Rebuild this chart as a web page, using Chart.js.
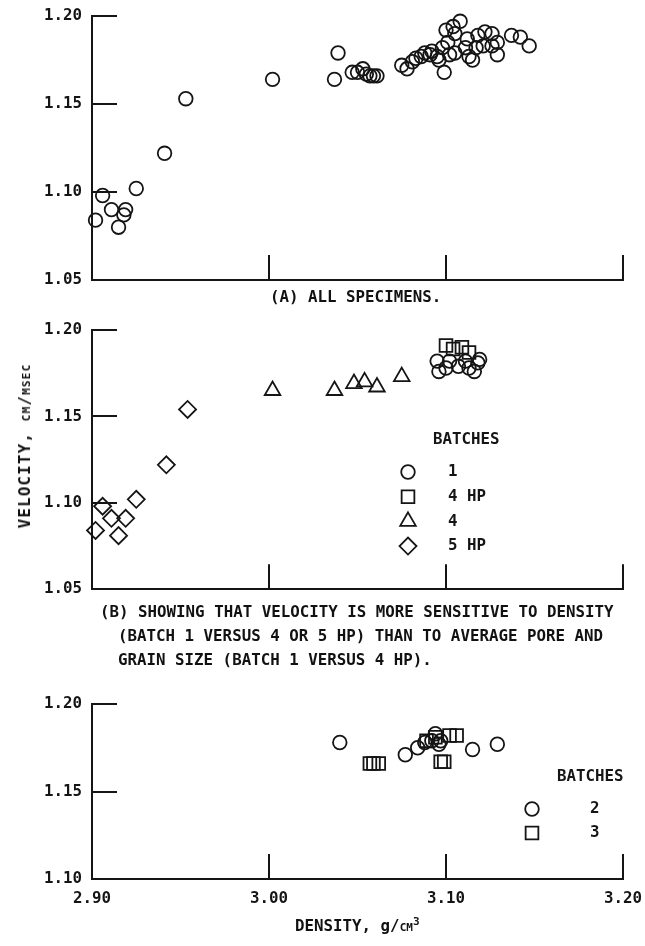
<!DOCTYPE html>
<html><head><meta charset="utf-8">
<script src="https://cdn.jsdelivr.net/npm/chart.js@4.4.0/dist/chart.umd.min.js"></script>
<style>
html,body{margin:0;padding:0;background:#fff;}
#page{position:relative;width:645px;height:946px;overflow:hidden;font-family:'DejaVu Sans Mono',monospace;color:#111;}
canvas{position:absolute;left:0;}
.t{position:absolute;white-space:pre;font-size:15.8px;font-weight:bold;line-height:16px;}
.sc{font-variant:small-caps;}
</style></head><body>
<div id="page">
<canvas id="cA" width="645" height="290" style="top:0"></canvas>
<canvas id="cB" width="645" height="310" style="top:290px"></canvas>
<canvas id="cC" width="645" height="346" style="top:600px"></canvas>
<div class="t" style="left:270px;top:289px">(A) ALL SPECIMENS.</div>
<div class="t" style="left:100px;top:604px">(B) SHOWING THAT VELOCITY IS MORE SENSITIVE TO DENSITY</div>
<div class="t" style="left:118px;top:628px">(BATCH 1 VERSUS 4 OR 5 HP) THAN TO AVERAGE PORE AND</div>
<div class="t" style="left:118px;top:652px">GRAIN SIZE (BATCH 1 VERSUS 4 HP).</div>
<div class="t" style="left:25px;top:446px;letter-spacing:1.2px;transform:translate(-50%,-50%) rotate(-90deg)">VELOCITY, <span class="sc">cm/μsec</span></div>
<div class="t" style="left:295px;top:914px">DENSITY, g/<span class="sc">cm</span><sup style="font-size:11px;vertical-align:6px">3</sup></div>
</div>
<script>
// ---------- data ----------
const yTicksAB = [1.05, 1.10, 1.15, 1.20];
const yTicksC = [1.10, 1.15, 1.20];
const xTicks = [2.90, 3.00, 3.10, 3.20];

// (A) all specimens
const allDensity = [2.902,2.906,2.911,2.915,2.918,2.919,2.925,2.941,2.953,3.002,3.037,3.039,3.047,3.050,3.053,3.055,3.057,3.059,3.061,3.075,3.078,3.081,3.083,3.086,3.088,3.091,3.092,3.095,3.096,3.098,3.099,3.100,3.101,3.102,3.104,3.105,3.105,3.108,3.111,3.112,3.113,3.115,3.117,3.118,3.121,3.122,3.126,3.126,3.129,3.129,3.137,3.142,3.147];
const allVelocity = [1.084,1.098,1.090,1.080,1.087,1.090,1.102,1.122,1.153,1.164,1.164,1.179,1.168,1.168,1.170,1.167,1.166,1.166,1.166,1.172,1.170,1.174,1.176,1.177,1.179,1.178,1.180,1.177,1.175,1.182,1.168,1.192,1.185,1.178,1.194,1.190,1.179,1.197,1.182,1.187,1.177,1.175,1.182,1.189,1.183,1.191,1.190,1.183,1.178,1.185,1.189,1.188,1.183];

// (B) batches
const b1Density = [3.095,3.096,3.100,3.102,3.107,3.111,3.113,3.116,3.118,3.119];
const b1Velocity = [1.182,1.176,1.178,1.182,1.179,1.182,1.178,1.176,1.181,1.183];
const b4hpDensity = [3.100,3.104,3.109,3.113];
const b4hpVelocity = [1.191,1.189,1.190,1.187];
const b4Density = [3.002,3.037,3.048,3.054,3.061,3.075];
const b4Velocity = [1.165,1.165,1.169,1.170,1.167,1.173];
const b5hpDensity = [2.902,2.906,2.911,2.915,2.919,2.925,2.942,2.954];
const b5hpVelocity = [1.084,1.098,1.091,1.081,1.091,1.102,1.122,1.154];

// (C) batches 2 and 3
const c2Density = [3.040,3.077,3.084,3.088,3.092,3.094,3.096,3.097,3.115,3.129];
const c2Velocity = [1.178,1.171,1.175,1.178,1.179,1.183,1.177,1.179,1.174,1.177];
const c3Density = [3.057,3.059,3.062,3.097,3.099,3.089,3.094,3.102,3.106];
const c3Velocity = [1.166,1.166,1.166,1.167,1.167,1.179,1.181,1.182,1.182];

// ---------- styling ----------
const INK = '#151515';
const FAM = "'DejaVu Sans Mono', monospace";
const CFONT = 'bold 15.8px ' + FAM;

function pts(xs, ys) { return xs.map((x, i) => ({ x: x, y: ys[i] })); }
const STY = { circle: 6.8, rect: 9, triangle: 9, rectRot: 8.5 };
function ds(label, xs, ys, style) {
  return {
    label: label, data: pts(xs, ys), pointStyle: style, pointRadius: STY[style],
    pointHoverRadius: STY[style], pointBorderWidth: 1.8, pointBorderColor: INK,
    pointBackgroundColor: 'rgba(0,0,0,0)', backgroundColor: 'rgba(0,0,0,0)',
    borderColor: INK, showLine: false, clip: false
  };
}

const inwardTicks = {
  id: 'inwardTicks',
  afterDatasetsDraw(chart) {
    const { ctx, chartArea: { left, bottom }, scales: { x, y } } = chart;
    ctx.save();
    ctx.strokeStyle = INK; ctx.lineWidth = 2;
    ctx.beginPath();
    y.ticks.forEach(t => {
      if (Math.abs(t.value - y.min) < 1e-9) return;
      const py = Math.round(y.getPixelForValue(t.value));
      ctx.moveTo(left, py); ctx.lineTo(left + 25, py);
    });
    x.ticks.forEach(t => {
      if (Math.abs(t.value - x.min) < 1e-9) return;
      const px = Math.round(x.getPixelForValue(t.value));
      ctx.moveTo(px, bottom); ctx.lineTo(px, bottom - 25);
    });
    ctx.stroke();
    ctx.restore();
  }
};

const batchLegend = {
  id: 'batchLegend',
  afterDraw(chart, args, o) {
    if (!o || !o.show) return;
    const ctx = chart.ctx;
    ctx.save();
    ctx.font = CFONT; ctx.textBaseline = 'middle'; ctx.textAlign = 'left';
    ctx.fillStyle = INK;
    ctx.fillText(o.title, o.titleX, o.titleY);
    chart.data.datasets.forEach((d, i) => {
      const yy = o.rowY + i * o.rowGap;
      ctx.strokeStyle = INK; ctx.lineWidth = d.pointBorderWidth;
      ctx.fillStyle = 'rgba(0,0,0,0)';
      Chart.helpers.drawPoint(ctx, { pointStyle: d.pointStyle, radius: d.pointRadius, borderWidth: d.pointBorderWidth, rotation: 0 }, o.symX, yy);
      ctx.fillStyle = INK;
      ctx.fillText(d.label, o.textX, yy);
    });
    ctx.restore();
  }
};

function makeChart(id, datasets, yTicks, ymin, ymax, padTop, xAxisH, showXLabels, legend) {
  const cv = document.getElementById(id);
  return new Chart(cv, {
    type: 'scatter',
    data: { datasets: datasets },
    options: {
      responsive: false, animation: false, devicePixelRatio: 1,
      layout: { padding: { top: padTop, right: 22, left: 0, bottom: 0 } },
      plugins: { legend: { display: false }, tooltip: { enabled: false }, batchLegend: legend || { show: false } },
      scales: {
        x: {
          type: 'linear', min: 2.90, max: 3.20,
          afterBuildTicks: s => { s.ticks = xTicks.map(v => ({ value: v })); },
          afterFit: s => { s.height = xAxisH; s.paddingLeft = 0; s.paddingRight = 0; },
          grid: { display: false, drawTicks: false },
          border: { display: true, color: INK, width: 2 },
          ticks: { display: showXLabels, padding: 10, color: INK, maxRotation: 0,
            font: { family: FAM, size: 15.8, weight: 'bold' },
            callback: v => Number(v).toFixed(2) }
        },
        y: {
          type: 'linear', min: ymin, max: ymax,
          afterBuildTicks: s => { s.ticks = yTicks.map(v => ({ value: v })); },
          afterFit: s => { s.width = 92; s.paddingTop = 0; s.paddingBottom = 0; },
          grid: { display: false, drawTicks: false },
          border: { display: true, color: INK, width: 2 },
          ticks: { padding: 10, color: INK,
            font: { family: FAM, size: 15.8, weight: 'bold' },
            callback: v => Number(v).toFixed(2) }
        }
      }
    },
    plugins: [inwardTicks, batchLegend]
  });
}

makeChart('cA', [ds('ALL', allDensity, allVelocity, 'circle')], yTicksAB, 1.05, 1.20, 16, 10, false, null);

makeChart('cB', [
  ds('1', b1Density, b1Velocity, 'circle'),
  ds('4 HP', b4hpDensity, b4hpVelocity, 'rect'),
  ds('4', b4Density, b4Velocity, 'triangle'),
  ds('5 HP', b5hpDensity, b5hpVelocity, 'rectRot')
], yTicksAB, 1.05, 1.20, 40, 8, false,
  { show: true, title: 'BATCHES', titleX: 433, titleY: 150, symX: 408, textX: 448, rowY: 182, rowGap: 24.7 });

makeChart('cC', [
  ds('2', c2Density, c2Velocity, 'circle'),
  ds('3', c3Density, c3Velocity, 'rect')
], yTicksC, 1.10, 1.20, 104, 67, true,
  { show: true, title: 'BATCHES', titleX: 557, titleY: 177, symX: 532, textX: 590, rowY: 209, rowGap: 24 });
</script>
</body></html>
